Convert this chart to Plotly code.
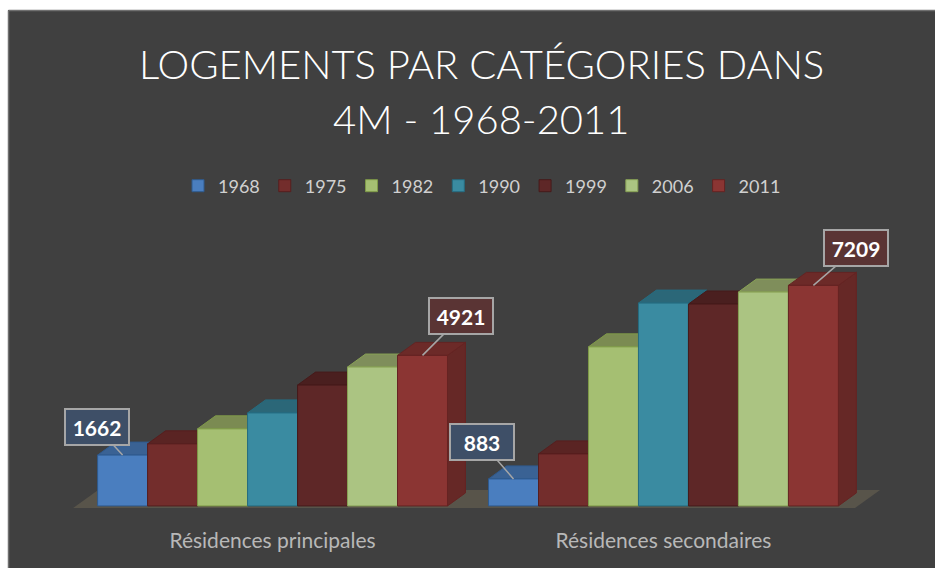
import plotly.graph_objects as go

# ---------------- data ----------------
categories = ["Résidences principales", "Résidences secondaires"]
years = ["1968", "1975", "1982", "1990", "1999", "2006", "2011"]
principales = [1662, 2030, 2520, 3040, 3950, 4540, 4921]
secondaires = [883, 1700, 5200, 6630, 6600, 6990, 7209]
labelled_series = [0, 6]  # data labels shown for 1968 and 2011

# ---------------- styles ----------------
front = ['#4a7ebf', '#732d2c', '#a5bf72', '#3a8ba1', '#5e2727', '#abc482', '#8b3533']
top_c = ['#3a6294', '#5a2423', '#7b8b52', '#2b6778', '#4a1f1f', '#7f8e5b', '#6c2a28']
side_c = ['#34598a', '#521f1f', '#6f7f49', '#276070', '#431b1b', '#74845a', '#662826']
outline = ['#2f5a8e', '#561e1e', '#7f9a48', '#256c80', '#461a1a', '#88a255', '#652322']
label_bg = {0: '#3e4f67', 6: '#5a3434'}
label_offsets = {(0, 0): (-26, -28), (6, 0): (39, -39), (0, 1): (-32, -37), (6, 1): (43, -37)}

FW, FH = 935, 568
L, R, T, B = 38, 37, 215, 48
PW, PH = FW - L - R, FH - T - B
XR = [-0.6, 1.6]
YR = [-460, 9510]
BARGAP = 0.105
n = len(years)
w = (1 - BARGAP) / n
DX = 0.046        # depth offset, x units
DY = 425          # depth offset, y units
FONT = "Lato"


def px(p):   # window pixel x -> paper x
    return (p - L) / PW


def py(p):   # window pixel y -> paper y
    return (FH - p - B) / PH


values = [principales, secondaires]
fig = go.Figure()
for i, yr in enumerate(years):
    fig.add_trace(go.Bar(
        x=[0, 1], y=[principales[i], secondaires[i]], name=yr,
        marker=dict(color=front[i], line=dict(color=outline[i], width=1)),
        hoverinfo="skip"))

shapes = []
# white page margin at top / left, with grey panel border
shapes.append(dict(type="rect", xref="paper", yref="paper", layer="below",
                   x0=px(-10), x1=px(8), y0=py(600), y1=py(-10),
                   fillcolor="white", line=dict(width=0)))
shapes.append(dict(type="rect", xref="paper", yref="paper", layer="below",
                   x0=px(-10), x1=px(960), y0=py(10), y1=py(-10),
                   fillcolor="white", line=dict(width=0)))
shapes.append(dict(type="line", xref="paper", yref="paper", layer="below",
                   x0=px(8.5), x1=px(960), y0=py(10.5), y1=py(10.5),
                   line=dict(color="#707070", width=1.5)))
shapes.append(dict(type="line", xref="paper", yref="paper", layer="below",
                   x0=px(8.5), x1=px(8.5), y0=py(10.5), y1=py(600),
                   line=dict(color="#707070", width=1.5)))
# floor
fx0, fx1 = -0.5 - 0.01, 1.5 - 0.01
fy0, fdx, fdy = -70, 0.064, 590
shapes.append(dict(type="path", layer="below", xref="x", yref="y",
                   path=f"M {fx0},{fy0} L {fx1},{fy0} L {fx1 + fdx},{fy0 + fdy} L {fx0 + fdx},{fy0 + fdy} Z",
                   fillcolor="#58544a", line=dict(width=0)))
# 3D top and side faces
for i in range(n):
    for c in range(2):
        h = values[c][i]
        xc = c + (i - (n - 1) / 2) * w
        xl, xr = xc - w / 2, xc + w / 2
        shapes.append(dict(type="path", layer="below", xref="x", yref="y",
                           path=f"M {xr},0 L {xr + DX},{DY} L {xr + DX},{h + DY} L {xr},{h} Z",
                           fillcolor=side_c[i], line=dict(color=outline[i], width=1)))
        shapes.append(dict(type="path", layer="below", xref="x", yref="y",
                           path=f"M {xl},{h} L {xr},{h} L {xr + DX},{h + DY} L {xl + DX},{h + DY} Z",
                           fillcolor=top_c[i], line=dict(color=outline[i], width=1)))

annotations = []
# title lines
annotations.append(dict(text="LOGEMENTS PAR CATÉGORIES DANS", xref="paper", yref="paper",
                        x=px(481), y=py(64), showarrow=False, yanchor="middle",
                        font=dict(family=FONT, size=40, color="white", weight=300)))
annotations.append(dict(text="4M - 1968-2011", xref="paper", yref="paper",
                        x=px(481), y=py(119), showarrow=False, yanchor="middle",
                        font=dict(family=FONT, size=40, color="white", weight=300)))
# data labels
for i in labelled_series:
    for c in range(2):
        h = values[c][i]
        xc = c + (i - (n - 1) / 2) * w
        ax, ay = label_offsets[(i, c)]
        annotations.append(dict(x=xc, y=h, xref="x", yref="y", text=f"<b>{h}</b>",
                                showarrow=True, arrowhead=0, arrowwidth=1.5, arrowcolor="#a6a6a6",
                                ax=ax, ay=ay, standoff=0, startstandoff=0,
                                bgcolor=label_bg[i], bordercolor="#a6a6a6", borderwidth=2,
                                borderpad=3, width=56, height=28,
                                font=dict(family=FONT, size=21, color="white")))

fig.update_layout(
    width=FW, height=FH,
    margin=dict(l=L, r=R, t=T, b=B),
    paper_bgcolor="#404040", plot_bgcolor="rgba(0,0,0,0)",
    barmode="group", bargap=BARGAP, bargroupgap=0,
    shapes=shapes, annotations=annotations,
    showlegend=True,
    legend=dict(orientation="h", x=px(482), xanchor="center", y=py(186), yanchor="middle",
                font=dict(family=FONT, size=18, color="#d0d0d0"), bgcolor="rgba(0,0,0,0)",
                itemwidth=30, traceorder="normal"),
    xaxis=dict(range=XR, tickmode="array", tickvals=[0, 1], ticktext=categories,
               showgrid=False, zeroline=False, showline=False, ticks="",
               tickfont=dict(family=FONT, size=21, color="#b8b8b8"), ticklabelstandoff=6,
               fixedrange=True),
    yaxis=dict(range=YR, visible=False, showgrid=False, zeroline=False, fixedrange=True),
)

fig.write_html("out.html", config={"displayModeBar": False},
               post_script="document.body.style.margin='0';document.body.style.overflow='hidden';")
